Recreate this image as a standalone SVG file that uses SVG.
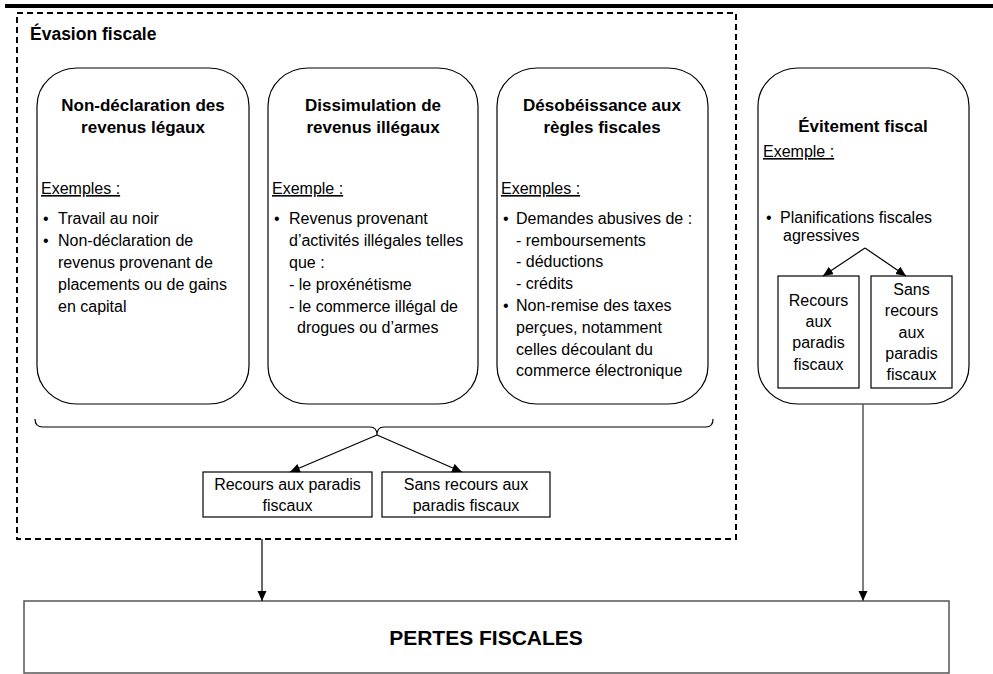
<svg xmlns="http://www.w3.org/2000/svg" width="993" height="674" viewBox="0 0 993 674">
<style>
text { font-family: "Liberation Sans", Arial, sans-serif; fill: #000; }
.t { font-size: 17px; font-weight: bold; text-anchor: middle; }
.b { font-size: 16px; }
.c { font-size: 16px; text-anchor: middle; }
.u { font-size: 16px; text-decoration: underline; }
.rbox { fill: #fff; stroke: #000; stroke-width: 1.2; }
.box { fill: #fff; stroke: #000; stroke-width: 1.2; }
.con { fill: none; stroke: #000; stroke-width: 1.2; }
.grey { fill: none; stroke: #555; stroke-width: 1.5; }
</style>
<defs>
<marker id="ah" markerUnits="userSpaceOnUse" markerWidth="10" markerHeight="10" refX="10" refY="4.5" orient="auto">
<path d="M0,0 L10,4.5 L0,9 z" fill="#000"/>
</marker>
</defs>

<rect x="5" y="4" width="988" height="4" fill="#000"/>

<g id="evasion">
<rect x="17" y="13" width="719" height="526" fill="none" stroke="#000" stroke-width="2" stroke-dasharray="6,4"/>
<text x="30" y="40" style="font-size:17.5px;font-weight:bold">Évasion fiscale</text>
</g>

<g id="non-declaration">
<rect class="rbox" x="37" y="68" width="212" height="336" rx="40" ry="38"/>
<text class="t" x="143" y="111">Non-déclaration des</text>
<text class="t" x="143" y="133">revenus légaux</text>
<text class="u" x="41" y="194">Exemples :</text>
<text class="b" x="43" y="224">•</text>
<text class="b" x="58" y="224">Travail au noir</text>
<text class="b" x="43" y="246">•</text>
<text class="b" x="58" y="246">Non-déclaration de</text>
<text class="b" x="58" y="268">revenus provenant de</text>
<text class="b" x="58" y="290">placements ou de gains</text>
<text class="b" x="58" y="312">en capital</text>
</g>

<g id="dissimulation">
<rect class="rbox" x="268" y="68" width="210" height="336" rx="40" ry="38"/>
<text class="t" x="373" y="111">Dissimulation de</text>
<text class="t" x="373" y="133">revenus illégaux</text>
<text class="u" x="272" y="194">Exemple :</text>
<text class="b" x="274" y="224">•</text>
<text class="b" x="289" y="224">Revenus provenant</text>
<text class="b" x="289" y="246">d’activités illégales telles</text>
<text class="b" x="289" y="268">que :</text>
<text class="b" x="289" y="290">- le proxénétisme</text>
<text class="b" x="289" y="312">- le commerce illégal de</text>
<text class="b" x="297" y="333">drogues ou d’armes</text>
</g>

<g id="desobeissance">
<rect class="rbox" x="497" y="68" width="211" height="336" rx="40" ry="38"/>
<text class="t" x="602" y="111">Désobéissance aux</text>
<text class="t" x="602" y="133">règles fiscales</text>
<text class="u" x="501" y="194">Exemples :</text>
<text class="b" x="503" y="224">•</text>
<text class="b" x="516" y="224">Demandes abusives de :</text>
<text class="b" x="516" y="246">- remboursements</text>
<text class="b" x="516" y="267">- déductions</text>
<text class="b" x="516" y="289">- crédits</text>
<text class="b" x="503" y="311">•</text>
<text class="b" x="516" y="311">Non-remise des taxes</text>
<text class="b" x="516" y="333">perçues, notamment</text>
<text class="b" x="516" y="355">celles découlant du</text>
<text class="b" x="516" y="376">commerce électronique</text>
</g>

<g id="evitement">
<rect class="rbox" x="758" y="68" width="211" height="336" rx="40" ry="38"/>
<text class="t" x="863" y="132">Évitement fiscal</text>
<text class="u" x="763" y="157">Exemple :</text>
<text class="b" x="766" y="223">•</text>
<text class="b" x="780" y="223">Planifications fiscales</text>
<text class="b" x="783" y="241">agressives</text>
</g>

<g id="evit-recours">
<rect class="box" x="778" y="276" width="81" height="112"/>
<text class="c" x="818.5" y="306">Recours</text>
<text class="c" x="818.5" y="327">aux</text>
<text class="c" x="818.5" y="348">paradis</text>
<text class="c" x="818.5" y="370">fiscaux</text>
</g>

<g id="evit-sans">
<rect class="box" x="871" y="276" width="81" height="112"/>
<text class="c" x="911.5" y="295">Sans</text>
<text class="c" x="911.5" y="316">recours</text>
<text class="c" x="911.5" y="338">aux</text>
<text class="c" x="911.5" y="359">paradis</text>
<text class="c" x="911.5" y="380">fiscaux</text>
</g>

<g id="evas-recours">
<rect class="box" x="203" y="472" width="169" height="45"/>
<text class="c" x="287.5" y="490">Recours aux paradis</text>
<text class="c" x="287.5" y="511">fiscaux</text>
</g>

<g id="evas-sans">
<rect class="box" x="382" y="472" width="168" height="45"/>
<text class="c" x="466" y="490">Sans recours aux</text>
<text class="c" x="466" y="511">paradis fiscaux</text>
</g>

<g id="pertes">
<rect x="24" y="601" width="925" height="72" fill="#fff" stroke="#555" stroke-width="1.5"/>
<text x="486" y="645" style="font-size:21px;font-weight:bold;text-anchor:middle">PERTES FISCALES</text>
</g>

<g id="connectors">
<path class="con" d="M35,419 Q35,427 43,427 L370,427 Q377,427 377,435 Q377,427 384,427 L706,427 Q713,427 713,419"/>
<line class="con" x1="377" y1="435" x2="290" y2="472" marker-end="url(#ah)"/>
<line class="con" x1="377" y1="435" x2="462" y2="472" marker-end="url(#ah)"/>
<line class="con" x1="865" y1="248" x2="823" y2="276" marker-end="url(#ah)"/>
<line class="con" x1="865" y1="248" x2="906" y2="276" marker-end="url(#ah)"/>
<line class="con" x1="262" y1="539" x2="262" y2="601" marker-end="url(#ah)"/>
<line class="grey" x1="863" y1="404" x2="863" y2="601" marker-end="url(#ah)"/>
</g>
</svg>
